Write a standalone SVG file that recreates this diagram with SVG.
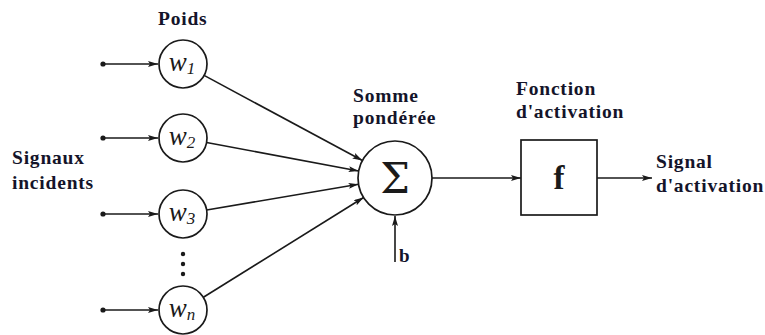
<svg xmlns="http://www.w3.org/2000/svg" width="765" height="335" viewBox="0 0 765 335">
<style>
.lbl{font-family:"Liberation Serif","Times New Roman",serif;font-weight:bold;font-size:19.5px;fill:#14142a;letter-spacing:0.8px}
.shape{fill:#fff;stroke:#1a1a1a;stroke-width:1.7}
.conn{stroke:#1a1a1a;stroke-width:1.6;fill:none}
.w{font-family:"Liberation Serif","Times New Roman",serif;font-style:italic;font-size:27px;fill:#1a1a1a}
.sub{font-size:17px}
</style>
<defs>
<marker id="ah" viewBox="0 0 10 6" refX="10" refY="3" markerWidth="10" markerHeight="6" markerUnits="userSpaceOnUse" orient="auto">
<path d="M0,0 L10,3 L0,6 L2,3 Z" fill="#1a1a1a"/>
</marker>
</defs>
<rect width="765" height="335" fill="#fff"/>
<g id="labels">
<text class="lbl" x="158" y="25">Poids</text>
<text class="lbl" x="12" y="164">Signaux</text>
<text class="lbl" x="12" y="189">incidents</text>
<text class="lbl" x="353" y="102">Somme</text>
<text class="lbl" x="353" y="124">pondérée</text>
<text class="lbl" x="516" y="95">Fonction</text>
<text class="lbl" x="516" y="118">d'activation</text>
<text class="lbl" x="656" y="168">Signal</text>
<text class="lbl" x="656" y="192">d'activation</text>
</g>
<g id="connectors">
<circle cx="103" cy="64" r="2.6" fill="#1a1a1a"/>
<circle cx="103" cy="138" r="2.6" fill="#1a1a1a"/>
<circle cx="103" cy="214" r="2.6" fill="#1a1a1a"/>
<circle cx="103" cy="310" r="2.6" fill="#1a1a1a"/>
<line class="conn" x1="103" y1="64" x2="158" y2="64" marker-end="url(#ah)"/>
<line class="conn" x1="103" y1="138" x2="158" y2="138" marker-end="url(#ah)"/>
<line class="conn" x1="103" y1="214" x2="158" y2="214" marker-end="url(#ah)"/>
<line class="conn" x1="103" y1="310" x2="158" y2="310" marker-end="url(#ah)"/>
<line class="conn" x1="204.1" y1="75.4" x2="362.4" y2="160.5" marker-end="url(#ah)"/>
<line class="conn" x1="206.6" y1="142.5" x2="358.6" y2="171" marker-end="url(#ah)"/>
<line class="conn" x1="206.7" y1="210" x2="358.5" y2="184.2" marker-end="url(#ah)"/>
<line class="conn" x1="203.4" y1="297.3" x2="363.6" y2="197.5" marker-end="url(#ah)"/>
<line class="conn" x1="395" y1="262" x2="395" y2="216" marker-end="url(#ah)"/>
<line class="conn" x1="432" y1="178" x2="521" y2="178" marker-end="url(#ah)"/>
<line class="conn" x1="597" y1="178" x2="652" y2="178" marker-end="url(#ah)"/>
</g>
<g id="w1"><circle class="shape" cx="183" cy="64" r="24"/><text class="w" x="182" y="71" text-anchor="middle">w<tspan class="sub" dy="3">1</tspan></text></g>
<g id="w2"><circle class="shape" cx="183" cy="138" r="24"/><text class="w" x="182" y="145" text-anchor="middle">w<tspan class="sub" dy="3">2</tspan></text></g>
<g id="w3"><circle class="shape" cx="183" cy="214" r="24"/><text class="w" x="182" y="221" text-anchor="middle">w<tspan class="sub" dy="3">3</tspan></text></g>
<g id="dots">
<circle cx="183" cy="254" r="2.2" fill="#1a1a1a"/>
<circle cx="183" cy="264" r="2.2" fill="#1a1a1a"/>
<circle cx="183" cy="274" r="2.2" fill="#1a1a1a"/>
</g>
<g id="wn"><circle class="shape" cx="183" cy="310" r="24"/><text class="w" x="182" y="317" text-anchor="middle">w<tspan class="sub" dy="3">n</tspan></text></g>
<g id="sum"><circle class="shape" cx="395" cy="178" r="37"/><text x="395" y="193" text-anchor="middle" font-family="'DejaVu Serif',serif" font-size="42" fill="#1a1a1a">Σ</text></g>
<g id="bias"><text class="lbl" x="399" y="262" style="font-size:19px">b</text></g>
<g id="f"><rect class="shape" x="521" y="140" width="76" height="75"/><text x="559" y="189" text-anchor="middle" font-family="'Liberation Serif',serif" font-weight="bold" font-size="33" fill="#1a1a1a">f</text></g>
</svg>
